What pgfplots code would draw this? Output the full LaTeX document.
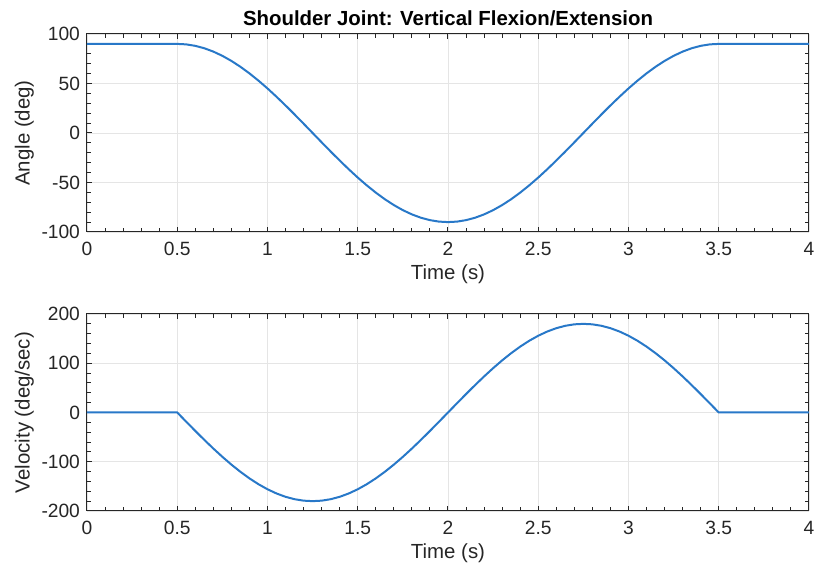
\documentclass[border=0pt]{standalone}
\usepackage{pgfplots}
\pgfplotsset{compat=1.18}
\usepackage{fontspec}
\setmainfont{Liberation Sans}
\definecolor{mblue}{RGB}{40,120,200}
\definecolor{axgray}{RGB}{38,38,38}

\pgfplotsset{
  mstyle/.style={
    scale only axis, width=361pt,
    xmin=0, xmax=4,
    xtick={0,0.5,...,4},
    xticklabels={0,0.5,1,1.5,2,2.5,3,3.5,4},
    minor x tick num=4,
    grid=major, grid style={gray!20, line width=0.4pt},
    axis line style={axgray, line width=0.5pt},
    tick style={axgray, line width=0.5pt},
    major tick length=2.6pt, minor tick length=2pt,
    tick align=inside,
    xtick pos=both, ytick pos=both,
    ticklabel style={font=\fontsize{9.6}{11}\selectfont, text=axgray},
    label style={font=\fontsize{10.2}{12}\selectfont, text=axgray},
    /pgf/number format/assume math mode=true,
    xticklabel style={yshift=-1.5pt},
    xlabel={Time (s)},
    xlabel style={yshift=2.5pt},
    ylabel style={yshift=-3pt},
  }
}

\begin{document}
\begin{tikzpicture}
\path[use as bounding box] (0,0) rectangle (408pt,-283pt);

\begin{axis}[mstyle,
  at={(43.5pt,-116pt)}, anchor=south west,
  height=99pt,
  ymin=-100, ymax=100,
  ytick={-100,-50,0,50,100},
  minor y tick num=4,
  ylabel={Angle (deg)},
  title={Shoulder Joint: Vertical Flexion/Extension},
  title style={font=\fontsize{10.2}{12}\selectfont\bfseries, text=black, yshift=-5.5pt},
]
\addplot[mblue, line width=1pt] coordinates {
(0,90) (0.5,90) (0.55,89.51) (0.60,88.03) (0.65,85.60) (0.70,82.22) (0.75,77.94)
(0.80,72.81) (0.85,66.88) (0.90,60.22) (0.95,52.90) (1.00,45.00) (1.05,36.60)
(1.10,27.81) (1.15,18.71) (1.20,9.41) (1.25,0) (1.30,-9.41) (1.35,-18.71)
(1.40,-27.81) (1.45,-36.60) (1.50,-45.00) (1.55,-52.90) (1.60,-60.22) (1.65,-66.88)
(1.70,-72.81) (1.75,-77.94) (1.80,-82.22) (1.85,-85.60) (1.90,-88.03) (1.95,-89.51)
(2.00,-90) (2.05,-89.51) (2.10,-88.03) (2.15,-85.60) (2.20,-82.22) (2.25,-77.94)
(2.30,-72.81) (2.35,-66.88) (2.40,-60.22) (2.45,-52.90) (2.50,-45.00) (2.55,-36.60)
(2.60,-27.81) (2.65,-18.71) (2.70,-9.41) (2.75,0) (2.80,9.41) (2.85,18.71)
(2.90,27.81) (2.95,36.60) (3.00,45.00) (3.05,52.90) (3.10,60.22) (3.15,66.88)
(3.20,72.81) (3.25,77.94) (3.30,82.22) (3.35,85.60) (3.40,88.03) (3.45,89.51)
(3.50,90) (4,90)
};
\end{axis}

\begin{axis}[mstyle,
  at={(43.5pt,-255.5pt)}, anchor=south west,
  height=98.5pt,
  ymin=-200, ymax=200,
  ytick={-200,-100,0,100,200},
  minor y tick num=4,
  ylabel={Velocity (deg/sec)},
]
\addplot[mblue, line width=1pt] coordinates {
(0,0) (0.5,0) (0.55,-18.81) (0.60,-37.42) (0.65,-55.62) (0.70,-73.21) (0.75,-90)
(0.80,-105.80) (0.85,-120.44) (0.90,-133.76) (0.95,-145.62) (1.00,-155.88)
(1.05,-164.43) (1.10,-171.20) (1.15,-176.06) (1.20,-179.01) (1.25,-180)
(1.30,-179.01) (1.35,-176.06) (1.40,-171.20) (1.45,-164.43) (1.50,-155.88)
(1.55,-145.62) (1.60,-133.76) (1.65,-120.44) (1.70,-105.80) (1.75,-90)
(1.80,-73.21) (1.85,-55.62) (1.90,-37.42) (1.95,-18.81) (2.00,0)
(2.05,18.81) (2.10,37.42) (2.15,55.62) (2.20,73.21) (2.25,90) (2.30,105.80)
(2.35,120.44) (2.40,133.76) (2.45,145.62) (2.50,155.88) (2.55,164.43)
(2.60,171.20) (2.65,176.06) (2.70,179.01) (2.75,180) (2.80,179.01)
(2.85,176.06) (2.90,171.20) (2.95,164.43) (3.00,155.88) (3.05,145.62)
(3.10,133.76) (3.15,120.44) (3.20,105.80) (3.25,90) (3.30,73.21)
(3.35,55.62) (3.40,37.42) (3.45,18.81) (3.50,0) (4,0)
};
\end{axis}
\end{tikzpicture}
\end{document}
